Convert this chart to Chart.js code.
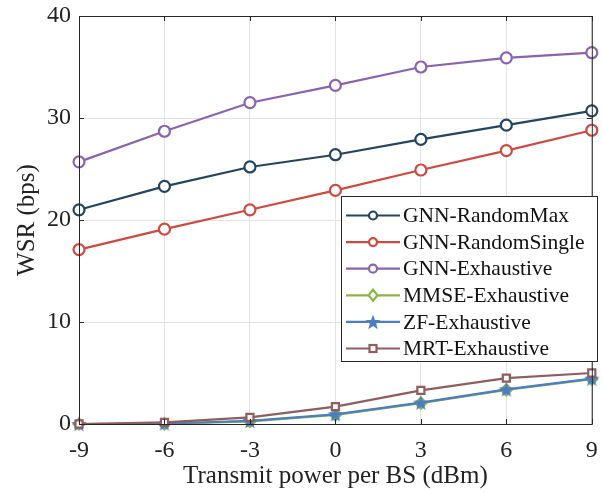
<!DOCTYPE html>
<html>
<head>
<meta charset="utf-8">
<script src="https://cdn.jsdelivr.net/npm/chart.js@4"></script>
<style>
  body { margin: 0; background: #fff; }
  #wrap { width: 602px; height: 493px; }
</style>
</head>
<body>
<div id="wrap"><canvas id="wsrChart" width="602" height="493"></canvas></div>
<script>
// data
const xVals = [-9, -6, -3, 0, 3, 6, 9];
const gnnRandomMax    = [21.0, 23.3, 25.2, 26.4, 27.9, 29.3, 30.7];
const gnnRandomSingle = [17.1, 19.1, 21.0, 22.9, 24.9, 26.8, 28.8];
const gnnExhaustive   = [25.7, 28.7, 31.5, 33.2, 35.0, 35.9, 36.4];
const mmseExhaustive  = [0.0, 0.0, 0.25, 0.9, 2.05, 3.35, 4.4];
const zfExhaustive    = [0.0, 0.05, 0.3, 0.95, 2.1, 3.4, 4.45];
const mrtExhaustive   = [0.0, 0.15, 0.65, 1.7, 3.3, 4.5, 5.0];
const seriesNames = ['GNN-RandomMax', 'GNN-RandomSingle', 'GNN-Exhaustive',
                     'MMSE-Exhaustive', 'ZF-Exhaustive', 'MRT-Exhaustive'];
const yTicks = [0, 10, 20, 30, 40];

const colors = ['#24455f', '#cc4a42', '#8a63ad', '#8ab446', '#4c7dc0', '#8f5d5e'];
const FONT = '"Liberation Serif", "Times New Roman", serif';

function starPath(ctx, cx, cy, r) {
  ctx.beginPath();
  for (let i = 0; i < 10; i++) {
    const rad = i % 2 === 0 ? r : r * 0.42;
    const a = -Math.PI / 2 + i * Math.PI / 5;
    ctx.lineTo(cx + rad * Math.cos(a), cy + rad * Math.sin(a));
  }
  ctx.closePath();
}

function makeStar(r, color) {
  const c = document.createElement('canvas');
  c.width = c.height = Math.ceil(r * 2 + 2);
  const g = c.getContext('2d');
  g.fillStyle = color;
  starPath(g, c.width / 2, c.height / 2 + r * 0.1, r);
  g.fill();
  return c;
}

const starImg = makeStar(8, colors[4]);

function pts(arr) { return xVals.map((x, i) => ({x, y: arr[i]})); }

const allSeries = [gnnRandomMax, gnnRandomSingle, gnnExhaustive, mmseExhaustive, zfExhaustive, mrtExhaustive];
const styles = ['circle', 'circle', 'circle', 'rectRot', starImg, 'rect'];
const radii = [5.5, 5.5, 5.5, 5.5, 8, 5];

const datasets = allSeries.map((arr, i) => ({
  label: seriesNames[i],
  data: pts(arr),
  borderColor: colors[i],
  backgroundColor: '#fff',
  borderWidth: 2.2,
  pointStyle: styles[i],
  pointRadius: radii[i],
  pointBorderWidth: 2.2,
  pointBorderColor: colors[i],
  pointBackgroundColor: '#fff',
  order: 6 - i,
  clip: false
}));

// box, inward ticks, legend
const framePlugin = {
  id: 'frame',
  afterDatasetsDraw(chart) {
    const {ctx, chartArea: a, scales} = chart;
    ctx.save();
    ctx.strokeStyle = '#262626';
    ctx.lineWidth = 1;
    ctx.strokeRect(a.left + 0.5, a.top + 0.5, a.right - a.left, a.bottom - a.top);
    ctx.beginPath();
    xVals.forEach(v => {
      const px = Math.round(scales.x.getPixelForValue(v)) + 0.5;
      ctx.moveTo(px, a.bottom); ctx.lineTo(px, a.bottom - 5);
      ctx.moveTo(px, a.top); ctx.lineTo(px, a.top + 5);
    });
    yTicks.forEach(v => {
      const py = Math.round(scales.y.getPixelForValue(v)) + 0.5;
      ctx.moveTo(a.left, py); ctx.lineTo(a.left + 5, py);
      ctx.moveTo(a.right, py); ctx.lineTo(a.right - 5, py);
    });
    ctx.stroke();

    // legend
    const bx = 341.5, by = 196.5, bw = 256, bh = 165;
    ctx.fillStyle = '#fff';
    ctx.fillRect(bx, by, bw, bh);
    ctx.strokeStyle = '#262626';
    ctx.strokeRect(bx, by, bw, bh);
    ctx.font = '21.5px ' + FONT;
    ctx.textBaseline = 'middle';
    chart.data.datasets.forEach((ds, i) => {
      const y = 215.5 + i * 26.6;
      ctx.strokeStyle = ds.borderColor;
      ctx.lineWidth = 2.2;
      ctx.beginPath(); ctx.moveTo(346, y); ctx.lineTo(400, y); ctx.stroke();
      const cx = 373;
      ctx.fillStyle = '#fff';
      if (i < 3) {
        ctx.beginPath(); ctx.arc(cx, y, 4, 0, Math.PI * 2); ctx.fill(); ctx.stroke();
      } else if (i === 3) {
        ctx.beginPath();
        ctx.moveTo(cx, y - 5.5); ctx.lineTo(cx + 4.5, y); ctx.lineTo(cx, y + 5.5); ctx.lineTo(cx - 4.5, y);
        ctx.closePath(); ctx.fill(); ctx.stroke();
      } else if (i === 4) {
        ctx.fillStyle = ds.borderColor;
        starPath(ctx, cx, y + 0.8, 8); ctx.fill();
      } else {
        ctx.fillRect(cx - 3.5, y - 3.5, 7, 7); ctx.strokeRect(cx - 3.5, y - 3.5, 7, 7);
      }
      ctx.fillStyle = '#111';
      ctx.fillText(ds.label, 403, y + 1);
    });
    ctx.restore();
  }
};

new Chart(document.getElementById('wsrChart'), {
  type: 'line',
  data: { datasets },
  options: {
    responsive: false,
    animation: false,
    events: [],
    layout: { padding: { left: 0, right: 5, top: 16, bottom: 0 } },
    plugins: { legend: { display: false }, tooltip: { enabled: false } },
    scales: {
      x: {
        type: 'linear', min: -9, max: 9,
        afterBuildTicks: s => { s.ticks = xVals.map(v => ({value: v})); },
        afterFit: s => { s.height = 69; s.paddingLeft = 0; s.paddingRight = 0; },
        grid: { color: '#e3e3e3', drawTicks: false },
        border: { display: true, color: '#262626' },
        ticks: { color: '#222', padding: 12, font: { family: FONT, size: 24 } },
        title: { display: true, text: 'Transmit power per BS (dBm)', color: '#222',
                 padding: { top: 0, bottom: 2 }, font: { family: FONT, size: 25 } }
      },
      y: {
        min: 0, max: 40,
        afterBuildTicks: s => { s.ticks = yTicks.map(v => ({value: v})); },
        afterFit: s => { s.width = 79; s.paddingTop = 0; s.paddingBottom = 0; },
        grid: { color: '#e3e3e3', drawTicks: false },
        border: { display: true, color: '#262626' },
        ticks: { color: '#222', padding: 8, font: { family: FONT, size: 24 } },
        title: { display: true, text: 'WSR (bps)', color: '#222',
                 padding: { top: 12, bottom: 0 }, font: { family: FONT, size: 25 } }
      }
    }
  },
  plugins: [framePlugin]
});
</script>
</body>
</html>
